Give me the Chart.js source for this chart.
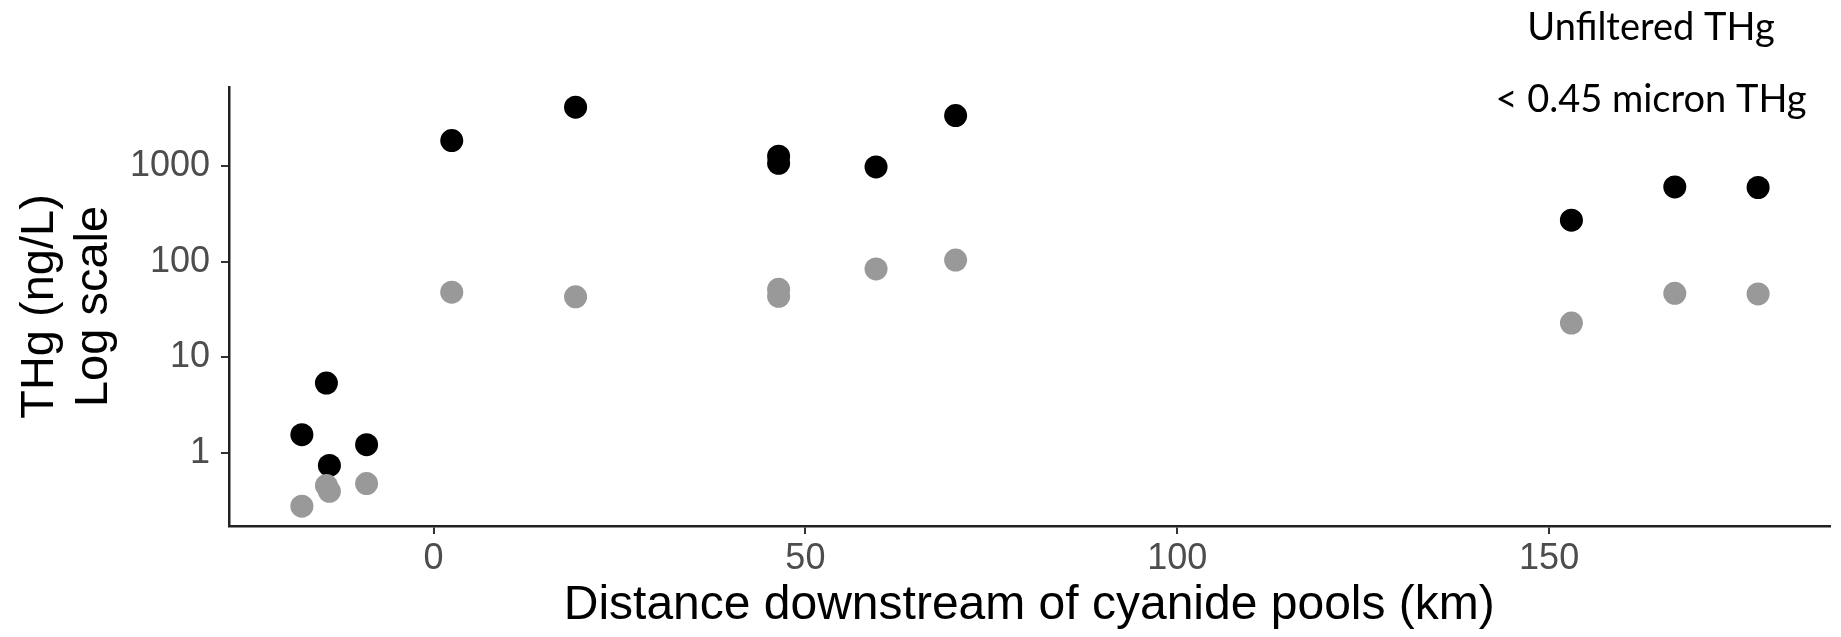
<!DOCTYPE html>
<html>
<head>
<meta charset="utf-8">
<title>THg vs distance downstream</title>
<script src="https://cdn.jsdelivr.net/npm/chart.js@4/dist/chart.umd.min.js"></script>
<style>
  html, body { margin: 0; padding: 0; background: #fff; }
  #wrap { width: 1841px; height: 637px; }
</style>
</head>
<body>
<div id="wrap"><canvas id="thgChart" width="1841" height="637"></canvas></div>
<script>
// series names (shown as the legend text, top right)
var seriesNames = ['Unfiltered THg', '< 0.45 micron THg'];

// distance downstream of cyanide pools (km)
var distUnfiltered = [-17.7, -14.4, -14.0, -9.0, 2.45, 19.1, 46.4, 46.4, 59.5, 70.2, 153.0, 166.9, 178.1];
var thgUnfiltered  = [1.55, 5.38, 0.74, 1.22, 1850, 4140, 1270, 1070, 980, 3380, 272, 607, 598];

var distFiltered = [-17.7, -14.4, -14.0, -9.0, 2.45, 19.1, 46.4, 46.4, 59.5, 70.2, 153.0, 166.9, 178.1];
var thgFiltered  = [0.277, 0.456, 0.397, 0.478, 48, 43, 51.5, 43.5, 84, 104, 22.8, 46.8, 46];

var xTicks = [0, 50, 100, 150];
var yTicks = [1, 10, 100, 1000];

var xTitle = 'Distance downstream of cyanide pools (km)';
var yTitle = ['THg (ng/L)', 'Log scale'];

function toPoints(xs, ys) {
  return xs.map(function(x, i) { return { x: x, y: ys[i] }; });
}

// legend drawn as plain text, no markers
var legendText = {
  id: 'legendText',
  afterDraw: function(chart) {
    var ctx = chart.ctx;
    ctx.save();
    ctx.font = '38px Lato';
    ctx.fillStyle = '#000';
    ctx.textAlign = 'center';
    ctx.textBaseline = 'alphabetic';
    ctx.fillText(seriesNames[0], 1651, 40);
    ctx.fillText(seriesNames[1], 1651, 112);
    ctx.restore();
  }
};

var tickFont = { family: "'Liberation Sans', Arial, sans-serif", size: 36 };
var titleFont = { family: "'Liberation Sans', Arial, sans-serif", size: 48, lineHeight: 1.15 };
var yTitleFont = { family: "'Liberation Sans', Arial, sans-serif", size: 47, lineHeight: 1.15 };

new Chart(document.getElementById('thgChart'), {
  type: 'scatter',
  data: {
    datasets: [
      {
        label: seriesNames[0],
        data: toPoints(distUnfiltered, thgUnfiltered),
        backgroundColor: '#000000',
        borderColor: '#000000',
        borderWidth: 0,
        pointRadius: 11.5,
        pointHoverRadius: 11.5,
        order: 2
      },
      {
        label: seriesNames[1],
        data: toPoints(distFiltered, thgFiltered),
        backgroundColor: '#999999',
        borderColor: '#999999',
        borderWidth: 0,
        pointRadius: 11.5,
        pointHoverRadius: 11.5,
        order: 1
      }
    ]
  },
  options: {
    responsive: false,
    animation: false,
    layout: { padding: { top: 87, right: 7, bottom: 0, left: 0 } },
    plugins: {
      legend: { display: false },
      tooltip: { enabled: false }
    },
    scales: {
      x: {
        type: 'linear',
        min: -27.5,
        max: 187.7,
        afterBuildTicks: function(scale) {
          scale.ticks = xTicks.map(function(v) { return { value: v }; });
        },
        afterFit: function(scale) { scale.height = 111; },
        border: { display: true, color: '#222', width: 2.5 },
        grid: { drawOnChartArea: false, drawTicks: true, tickLength: 8, color: '#333', lineWidth: 2 },
        ticks: {
          color: '#4d4d4d',
          font: tickFont,
          padding: 3,
          maxRotation: 0,
          callback: function(v) { return String(v); }
        },
        title: {
          display: true,
          text: xTitle,
          color: '#000',
          font: titleFont,
          padding: { top: 0, bottom: 4 }
        }
      },
      y: {
        type: 'logarithmic',
        min: 0.172,
        max: 6730,
        afterBuildTicks: function(scale) {
          scale.ticks = yTicks.map(function(v) { return { value: v }; });
        },
        afterFit: function(scale) { scale.width = 229; },
        border: { display: true, color: '#222', width: 2.5 },
        grid: { drawOnChartArea: false, drawTicks: true, tickLength: 8, color: '#333', lineWidth: 2 },
        ticks: {
          color: '#4d4d4d',
          font: tickFont,
          padding: 11,
          callback: function(v) { return String(v); }
        },
        title: {
          display: true,
          text: yTitle,
          color: '#000',
          font: yTitleFont,
          padding: { top: 13, bottom: 0 }
        }
      }
    }
  },
  plugins: [legendText]
});
</script>
</body>
</html>
